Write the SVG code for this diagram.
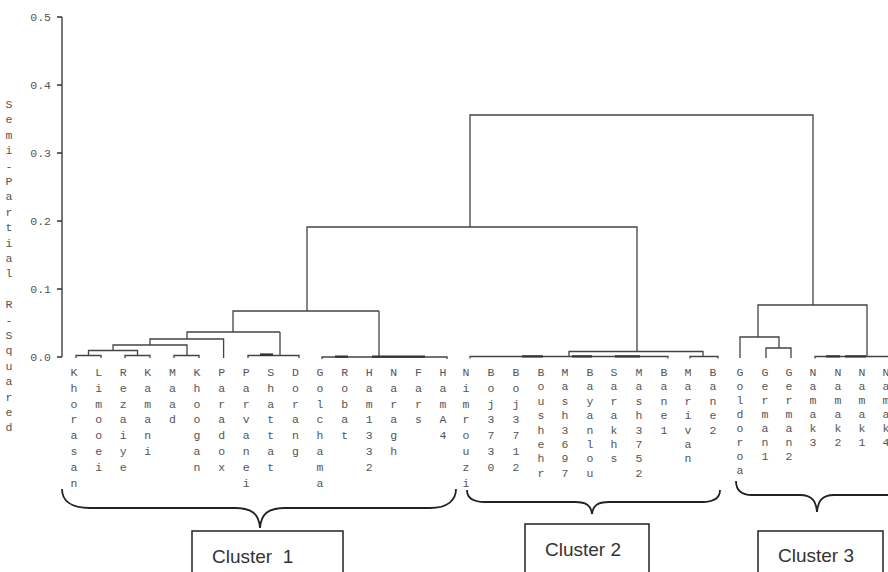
<svg xmlns="http://www.w3.org/2000/svg" width="888" height="572" viewBox="0 0 888 572">
<style>
.ln{fill:none;stroke:#444;stroke-width:1.3}
.dk{fill:none;stroke:#333;stroke-width:2.4}
.ax{fill:none;stroke:#333;stroke-width:1.3}
.mono{font-family:"Liberation Mono","DejaVu Sans Mono",monospace;font-size:11.5px;fill:#555;text-anchor:middle}
.tick{font-family:"Liberation Mono","DejaVu Sans Mono",monospace;font-size:11.5px;fill:#555;text-anchor:end}
.br{fill:none;stroke:#222;stroke-width:1.8}
.box{fill:#fff;stroke:#222;stroke-width:1.5}
.cl{font-family:"Liberation Sans",Arial,sans-serif;font-size:19px;fill:#333}
</style>
<rect width="888" height="572" fill="#fff"/>

<g id="axis">
<path class="ax" d="M62 17V357M57 17H62M57 85H62M57 153H62M57 221H62M57 289H62M57 357H62"/>
<text class="tick" x="51" y="21">0.5</text>
<text class="tick" x="51" y="89">0.4</text>
<text class="tick" x="51" y="157">0.3</text>
<text class="tick" x="51" y="225">0.2</text>
<text class="tick" x="51" y="293">0.1</text>
<text class="tick" x="51" y="361">0.0</text>
<text class="mono" x="9 9 9 9 9 9 9 9 9 9 9 9 9 9 9 9 9 9 9 9 9 9" y="108 123.4 138.8 154.2 169.6 185 200.4 215.8 231.2 246.6 262 277.4 292.8 308.2 323.6 339 354.4 369.8 385.2 400.6 416 431.4">Semi-Partial R-Squared</text>
</g>

<g id="connectors">
<path class="ln" d="M76 358V355.5H101V358"/>
<path class="ln" d="M125 358V355.5H150V358"/>
<path class="ln" d="M88.5 355.5V350.5H137.5V355.5"/>
<path class="ln" d="M174 358V355.5H199V358"/>
<path class="ln" d="M113 350.5V345H187V355.5"/>
<path class="ln" d="M150 345V339H223.6V358"/>
<path class="ln" d="M248 358V355.5H299V358M280 355.5V332"/>
<path class="dk" d="M260 354.6H273"/>
<path class="ln" d="M187 339V332H280"/>
<path class="ln" d="M322 359V357H447V359M379 357V311"/>
<path class="dk" d="M335 356.6H348M372 356.6H425"/>
<path class="ln" d="M233 332V311H379"/>
<path class="ln" d="M307 311V227H637V351.5"/>
<path class="ln" d="M569 356.5V351.5H703V356.5"/>
<path class="ln" d="M470 358.5V356.5H668V358.5"/>
<path class="dk" d="M522 356.4H543M572 356.4H592M615 356.4H640"/>
<path class="ln" d="M690 358.5V356.5H718V358.5"/>
<path class="ln" d="M470 227V115H813V305"/>
<path class="ln" d="M758 337V305H867V356.5"/>
<path class="ln" d="M740 358V337H779V348"/>
<path class="ln" d="M766 358V348H791V358"/>
<path class="ln" d="M815 358.5V356.5H888"/>
<path class="dk" d="M826 356.4H840M845 356.4H866"/>
</g>

<g id="leaves">
<g id="leaf-khorasan"><text class="mono" x="74 74 74 74 74 74 74 74" y="376 391.8 407.6 423.4 439.2 455 470.8 486.6">Khorasan</text></g>
<g id="leaf-limooei"><text class="mono" x="98.6 98.6 98.6 98.6 98.6 98.6 98.6 98.6" y="376 391.8 407.6 423.4 439.2 455 470.8 486.6">Limooei</text></g>
<g id="leaf-rezaiye"><text class="mono" x="123.2 123.2 123.2 123.2 123.2 123.2 123.2 123.2" y="376 391.8 407.6 423.4 439.2 455 470.8 486.6">Rezaiye</text></g>
<g id="leaf-kamani"><text class="mono" x="147.8 147.8 147.8 147.8 147.8 147.8 147.8 147.8" y="376 391.8 407.6 423.4 439.2 455 470.8 486.6">Kamani</text></g>
<g id="leaf-maad"><text class="mono" x="172.4 172.4 172.4 172.4 172.4 172.4 172.4 172.4" y="376 391.8 407.6 423.4 439.2 455 470.8 486.6">Maad</text></g>
<g id="leaf-khoogan"><text class="mono" x="197 197 197 197 197 197 197 197" y="376 391.8 407.6 423.4 439.2 455 470.8 486.6">Khoogan</text></g>
<g id="leaf-paradox"><text class="mono" x="221.6 221.6 221.6 221.6 221.6 221.6 221.6 221.6" y="376 391.8 407.6 423.4 439.2 455 470.8 486.6">Paradox</text></g>
<g id="leaf-parvanei"><text class="mono" x="246.2 246.2 246.2 246.2 246.2 246.2 246.2 246.2" y="376 391.8 407.6 423.4 439.2 455 470.8 486.6">Parvanei</text></g>
<g id="leaf-shattat"><text class="mono" x="270.8 270.8 270.8 270.8 270.8 270.8 270.8 270.8" y="376 391.8 407.6 423.4 439.2 455 470.8 486.6">Shattat</text></g>
<g id="leaf-dorang"><text class="mono" x="295.4 295.4 295.4 295.4 295.4 295.4 295.4 295.4" y="376 391.8 407.6 423.4 439.2 455 470.8 486.6">Dorang</text></g>
<g id="leaf-golchama"><text class="mono" x="320 320 320 320 320 320 320 320" y="376 391.8 407.6 423.4 439.2 455 470.8 486.6">Golchama</text></g>
<g id="leaf-robat"><text class="mono" x="344.6 344.6 344.6 344.6 344.6 344.6 344.6 344.6" y="376 391.8 407.6 423.4 439.2 455 470.8 486.6">Robat</text></g>
<g id="leaf-ham1332"><text class="mono" x="369.2 369.2 369.2 369.2 369.2 369.2 369.2 369.2" y="376 391.8 407.6 423.4 439.2 455 470.8 486.6">Ham1332</text></g>
<g id="leaf-naragh"><text class="mono" x="393.8 393.8 393.8 393.8 393.8 393.8 393.8 393.8" y="376 391.8 407.6 423.4 439.2 455 470.8 486.6">Naragh</text></g>
<g id="leaf-fars"><text class="mono" x="418.4 418.4 418.4 418.4 418.4 418.4 418.4 418.4" y="376 391.8 407.6 423.4 439.2 455 470.8 486.6">Fars</text></g>
<g id="leaf-hama4"><text class="mono" x="443 443 443 443 443 443 443 443" y="376 391.8 407.6 423.4 439.2 455 470.8 486.6">HamA4</text></g>

<g id="leaf-nimrouzi"><text class="mono" x="466 466 466 466 466 466 466 466" y="376 391.8 407.6 423.4 439.2 455 470.8 486.6">Nimrouzi</text></g>
<g id="leaf-boj3730"><text class="mono" x="491 491 491 491 491 491 491 491" y="376 391.8 407.6 423.4 439.2 455 470.8 486.6">Boj3730</text></g>
<g id="leaf-boj3712"><text class="mono" x="516 516 516 516 516 516 516 516" y="376 391.8 407.6 423.4 439.2 455 470.8 486.6">Boj3712</text></g>
<g id="leaf-boushehr"><text class="mono" x="541 541 541 541 541 541 541 541" y="376 390.4 404.8 419.2 433.6 448 462.4 476.8">Boushehr</text></g>
<g id="leaf-mash3697"><text class="mono" x="565 565 565 565 565 565 565 565" y="376 390.4 404.8 419.2 433.6 448 462.4 476.8">Mash3697</text></g>
<g id="leaf-bayanlou"><text class="mono" x="590 590 590 590 590 590 590 590" y="376 390.4 404.8 419.2 433.6 448 462.4 476.8">Bayanlou</text></g>
<g id="leaf-sarakhs"><text class="mono" x="614 614 614 614 614 614 614 614" y="376 390.4 404.8 419.2 433.6 448 462.4 476.8">Sarakhs</text></g>
<g id="leaf-mash3752"><text class="mono" x="639 639 639 639 639 639 639 639" y="376 390.4 404.8 419.2 433.6 448 462.4 476.8">Mash3752</text></g>
<g id="leaf-bane1"><text class="mono" x="664 664 664 664 664 664 664 664" y="376 390.4 404.8 419.2 433.6 448 462.4 476.8">Bane1</text></g>
<g id="leaf-marivan"><text class="mono" x="688 688 688 688 688 688 688 688" y="376 390.4 404.8 419.2 433.6 448 462.4 476.8">Marivan</text></g>
<g id="leaf-bane2"><text class="mono" x="713 713 713 713 713 713 713 713" y="376 390.4 404.8 419.2 433.6 448 462.4 476.8">Bane2</text></g>

<g id="leaf-goldoroa"><text class="mono" x="740 740 740 740 740 740 740 740" y="376 390 404 418 432 446 460 474">Goldoroa</text></g>
<g id="leaf-german1"><text class="mono" x="765 765 765 765 765 765 765 765" y="376 390 404 418 432 446 460 474">German1</text></g>
<g id="leaf-german2"><text class="mono" x="789 789 789 789 789 789 789 789" y="376 390 404 418 432 446 460 474">German2</text></g>
<g id="leaf-namak3"><text class="mono" x="813 813 813 813 813 813 813 813" y="376 390 404 418 432 446 460 474">Namak3</text></g>
<g id="leaf-namak2"><text class="mono" x="838 838 838 838 838 838 838 838" y="376 390 404 418 432 446 460 474">Namak2</text></g>
<g id="leaf-namak1"><text class="mono" x="862 862 862 862 862 862 862 862" y="376 390 404 418 432 446 460 474">Namak1</text></g>
<g id="leaf-namak4"><text class="mono" x="886 886 886 886 886 886 886 886" y="376 390 404 418 432 446 460 474">Namak4</text></g>
</g>

<g id="cluster1">
<path class="br" d="M62 489C62 500 70 508 90 508L235 508C252 508 259 514 260 528C261 514 268 508 285 508L430 508C448 508 456 500 456 489"/>
<rect class="box" x="192" y="531" width="151" height="60"/>
<text class="cl" x="212" y="563" xml:space="preserve">Cluster  1</text>
</g>
<g id="cluster2">
<path class="br" d="M467 490C467 498 473 502 485 502L575 502C587 502 591 506 592 514C593 506 597 502 609 502L702 502C714 502 720 498 720 490"/>
<rect class="box" x="525" y="524" width="124" height="60"/>
<text class="cl" x="545" y="556">Cluster 2</text>
</g>
<g id="cluster3">
<path class="br" d="M736 481C736 490 741 495 752 495L800 495C812 495 816 501 817 512C818 501 822 495 834 495L890 495"/>
<rect class="box" x="758" y="531" width="125" height="60"/>
<text class="cl" x="778" y="562">Cluster 3</text>
</g>
</svg>
